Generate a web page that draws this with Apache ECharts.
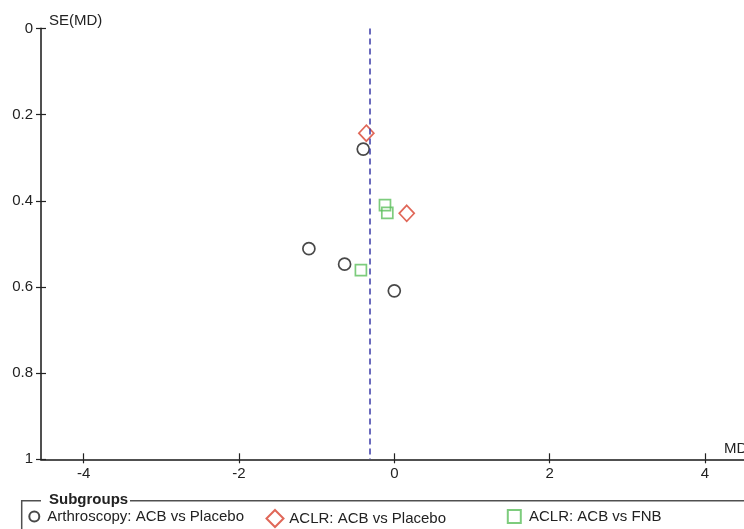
<!DOCTYPE html>
<html>
<head>
<meta charset="utf-8">
<script src="https://cdn.jsdelivr.net/npm/echarts@6/dist/echarts.min.js"></script>
<style>
  html, body { margin: 0; padding: 0; background: #fff; }
  #plot { width: 744px; height: 529px; }
</style>
</head>
<body>
<div id="plot"></div>
<script>
// funnel plot data (MD on x, SE(MD) on y)
const arthroMD = [-0.40, -1.10, -0.64, 0.00];
const arthroSE = [0.280, 0.511, 0.547, 0.609];
const aclrPlaceboMD = [-0.36, 0.16];
const aclrPlaceboSE = [0.243, 0.429];
const aclrFnbMD = [-0.12, -0.09, -0.43];
const aclrFnbSE = [0.410, 0.428, 0.561];
const pooledMD = -0.31;
const xTicks = [-4, -2, 0, 2, 4];
const groupNames = ["Arthroscopy: ACB vs Placebo", "ACLR: ACB vs Placebo", "ACLR: ACB vs FNB"];

const font = "Liberation Sans";
const textColor = "#222";
const axisColor = "#505050";

function pairs(xs, ys) {
  return xs.map(function(x, i) { return [x, ys[i]]; });
}

// second pair of axes only draws the inner half of the ticks
function baseX(extra) {
  return Object.assign({
    type: "value",
    min: -4.55,
    max: 4.55,
    position: "bottom",
    splitLine: { show: false },
  }, extra);
}
function baseY(extra) {
  return Object.assign({
    type: "value",
    min: 0,
    max: 1,
    interval: 0.2,
    inverse: true,
    position: "left",
    splitLine: { show: false },
  }, extra);
}

function legendFor(name, left, size, gap) {
  return {
    data: [name],
    left: left,
    top: 509,
    padding: 0,
    itemWidth: size,
    itemHeight: size,
    selectedMode: false,
    textStyle: { fontFamily: font, fontSize: 15, color: textColor, padding: [0, 0, 0, gap] },
  };
}

let chart = echarts.init(document.getElementById("plot"));
chart.setOption({
  animation: false,
  backgroundColor: "#fff",
  // the x axis runs a little past the right edge, like the original
  grid: { left: 41, width: 706.6, top: 28.5, height: 430.8, outerBoundsMode: "none" },
  xAxis: [
    baseX({
      name: "MD",
      nameLocation: "end",
      nameGap: -23.6,
      nameTextStyle: { fontFamily: font, fontSize: 15, color: textColor, verticalAlign: "bottom", padding: [0, 0, 3, 0] },
      axisLine: { onZero: false, lineStyle: { color: axisColor, width: 2 } },
      axisTick: { customValues: xTicks, length: 4, lineStyle: { color: textColor, width: 1.2 } },
      axisLabel: { customValues: xTicks, margin: 7, fontFamily: font, fontSize: 15, color: textColor },
    }),
    baseX({
      axisLine: { show: false, onZero: false },
      axisTick: { customValues: xTicks, inside: true, length: 6, lineStyle: { color: textColor, width: 1.2 } },
      axisLabel: { show: false },
    }),
  ],
  yAxis: [
    baseY({
      name: "SE(MD)",
      nameLocation: "start",
      nameGap: 0,
      nameTextStyle: { fontFamily: font, fontSize: 15, color: textColor, align: "left", verticalAlign: "bottom", padding: [0, 0, 0, 8] },
      axisLine: { onZero: false, lineStyle: { color: axisColor, width: 2 } },
      axisTick: { length: 5, lineStyle: { color: textColor, width: 1.2 } },
      axisLabel: { margin: 8, fontFamily: font, fontSize: 15, color: textColor },
    }),
    baseY({
      axisLine: { show: false, onZero: false },
      axisTick: { inside: true, length: 5, lineStyle: { color: textColor, width: 1.2 } },
      axisLabel: { show: false },
    }),
  ],
  legend: [
    legendFor(groupNames[0], 28.3, 10, 3),
    legendFor(groupNames[1], 265.5, 17, 0.8),
    legendFor(groupNames[2], 506.8, 13, 3.2),
  ],
  graphic: [
    {
      type: "polyline",
      silent: true,
      shape: { points: [[21.7, 540], [21.7, 500.7], [41, 500.7]] },
      style: { fill: null, stroke: axisColor, lineWidth: 1.5 },
    },
    {
      type: "line",
      silent: true,
      shape: { x1: 130, y1: 500.7, x2: 760, y2: 500.7 },
      style: { stroke: axisColor, lineWidth: 1.5 },
    },
    {
      type: "text",
      silent: true,
      x: 49,
      y: 500,
      style: {
        text: "Subgroups",
        fontFamily: font,
        fontSize: 15,
        fontWeight: "bold",
        fill: textColor,
        verticalAlign: "middle",
      },
    },
  ],
  series: [
    {
      name: groupNames[0],
      type: "scatter",
      symbol: "circle",
      symbolSize: 12,
      data: pairs(arthroMD, arthroSE),
      itemStyle: { color: "rgba(0,0,0,0)", borderColor: "#1a1a1a", borderWidth: 1.7 },
      markLine: {
        silent: true,
        symbol: "none",
        label: { show: false },
        lineStyle: { type: [6, 4], color: "#3a3aa8", width: 1.5 },
        data: [{ xAxis: pooledMD }],
      },
    },
    {
      name: groupNames[1],
      type: "scatter",
      symbol: "diamond",
      symbolSize: [15, 16],
      data: pairs(aclrPlaceboMD, aclrPlaceboSE),
      itemStyle: { color: "rgba(0,0,0,0)", borderColor: "#d8412e", borderWidth: 1.7 },
    },
    {
      name: groupNames[2],
      type: "scatter",
      symbol: "rect",
      symbolSize: 11,
      data: pairs(aclrFnbMD, aclrFnbSE),
      itemStyle: { color: "rgba(0,0,0,0)", borderColor: "#5cbf5c", borderWidth: 1.7 },
    },
  ],
});
</script>
</body>
</html>
